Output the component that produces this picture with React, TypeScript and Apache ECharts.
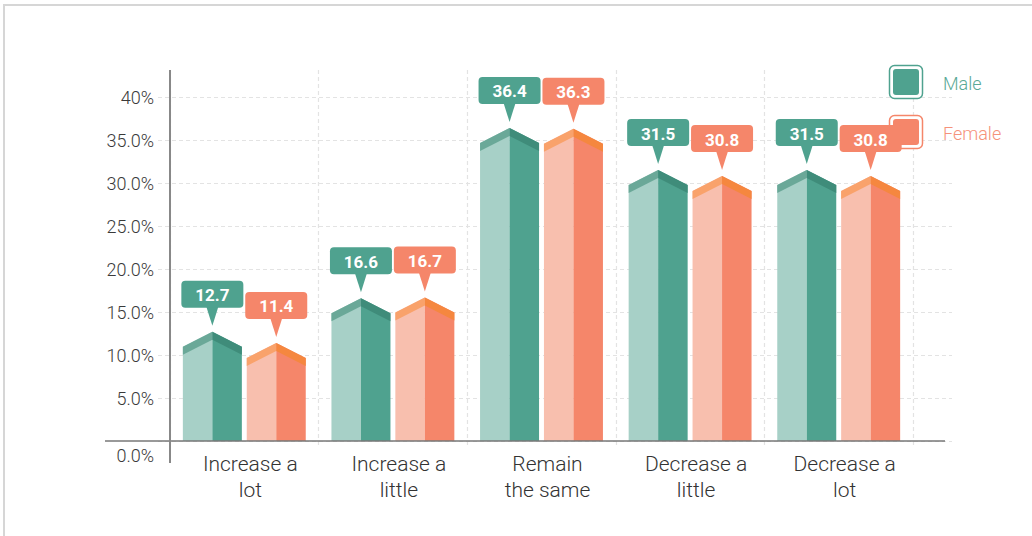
import React, { useEffect, useRef } from "react";
import * as echarts from "echarts";

const categories = [
  "Increase a\nlot",
  "Increase a\nlittle",
  "Remain\nthe same",
  "Decrease a\nlittle",
  "Decrease a\nlot",
];
const maleValues = [12.7, 16.6, 36.4, 31.5, 31.5];
const femaleValues = [11.4, 16.7, 36.3, 30.8, 30.8];
const yTicks = { min: 0, max: 40, interval: 5 };

const MALE = { light: "#a7d0c7", dark: "#4fa28f", capL: "#6aa898", capR: "#3f8c7a", label: "#4fa28f", text: "#5aa996" };
const FEMALE = { light: "#f8bfae", dark: "#f5866a", capL: "#f9a26b", capR: "#f5873f", label: "#f5866a", text: "#f5927a" };

const FONT = "Roboto, 'Liberation Sans', Arial, sans-serif";

// Pentagon ("house") bar split into a light left half and a dark right half,
// with a darker roof band and a callout bubble holding the value.
function houseBar(palette: typeof MALE, offset: number) {
  return (params: any, api: any) => {
    const cat = api.value(0);
    const v = api.value(1);
    const base = api.coord([cat, 0]);
    const top = api.coord([cat, v]);
    const band = api.size([1, 0])[0];
    const w = band * 0.397;
    const cx = base[0] + offset * band;
    const x0 = cx - w / 2;
    const x1 = cx + w / 2;
    const y0 = base[1];
    const peak = top[1];
    const shoulder = Math.min(peak + 15, y0);
    const cap = 8;
    const capS = Math.min(shoulder + cap, y0);
    const capP = Math.min(peak + cap, y0);
    const tip = peak - 6;
    const ptr = 18;
    const boxH = 27;
    const boxW = 62;
    return {
      type: "group",
      children: [
        { type: "polygon", shape: { points: [[x0, y0], [x0, shoulder], [cx, peak], [cx, y0]] }, style: { fill: palette.light } },
        { type: "polygon", shape: { points: [[cx, y0], [cx, peak], [x1, shoulder], [x1, y0]] }, style: { fill: palette.dark } },
        { type: "polygon", shape: { points: [[x0, shoulder], [cx, peak], [cx, capP], [x0, capS]] }, style: { fill: palette.capL } },
        { type: "polygon", shape: { points: [[cx, peak], [x1, shoulder], [x1, capS], [cx, capP]] }, style: { fill: palette.capR } },
        { type: "polygon", shape: { points: [[cx - 6, tip - ptr - 1], [cx + 6, tip - ptr - 1], [cx, tip]] }, style: { fill: palette.label } },
        { type: "rect", shape: { x: cx - boxW / 2, y: tip - ptr - boxH, width: boxW, height: boxH, r: 4 }, style: { fill: palette.label } },
        {
          type: "text",
          x: cx,
          y: tip - ptr - boxH / 2 + 1,
          style: { text: String(v), fill: "#ffffff", font: `bold 17px ${FONT}`, align: "center", verticalAlign: "middle" },
        },
      ],
    };
  };
}

export default function App() {
  const ref = useRef<HTMLDivElement>(null);
  useEffect(() => {
    if (!ref.current) return;
    const chart = echarts.init(ref.current, null, { renderer: "svg" });
    const dash = { color: "#e3e3e3", type: [4, 3] as any, width: 1.2 };
    chart.setOption({
      animation: false,
      grid: [
        { left: 170, width: 743, top: 97, height: 344 },
        { left: 158, width: 794, top: 97, height: 344 },
        { left: 170, width: 743, top: 70, height: 375 },
      ],
      xAxis: [
        {
          type: "category",
          gridIndex: 0,
          data: categories,
          axisLine: { show: false },
          axisTick: { show: false },
          splitLine: { show: false },
          axisLabel: {
            fontSize: 21,
            fontWeight: 300,
            lineHeight: 26,
            margin: 10,
            color: "#333",
            fontFamily: FONT,
            padding: [0, 0, 0, 12],
          },
        },
        { type: "value", gridIndex: 1, show: false },
        {
          type: "category",
          gridIndex: 2,
          data: categories,
          axisLine: { show: false },
          axisTick: { show: false },
          axisLabel: { show: false },
          splitLine: { show: true, lineStyle: dash },
        },
      ],
      yAxis: [
        {
          type: "value",
          gridIndex: 0,
          min: yTicks.min,
          max: yTicks.max,
          interval: yTicks.interval,
          axisLine: { show: false },
          axisTick: { show: false },
          splitLine: { show: false },
          axisLabel: {
            margin: 16,
            fontSize: 18,
            fontWeight: 300,
            color: "#3a3a3a",
            fontFamily: FONT,
            formatter: (val: number) => (val === 0 ? "{z|0.0%}" : val === 40 ? "40%" : val.toFixed(1) + "%"),
            rich: { z: { fontSize: 18, fontWeight: 300, color: "#3a3a3a", fontFamily: FONT, padding: [28, 0, 0, 0] } },
          },
        },
        {
          type: "value",
          gridIndex: 1,
          min: yTicks.min,
          max: yTicks.max,
          interval: yTicks.interval,
          axisLine: { show: false },
          axisTick: { show: false },
          axisLabel: { show: false },
          splitLine: { show: true, lineStyle: dash },
        },
        { type: "value", gridIndex: 2, show: false },
      ],
      series: [
        {
          name: "Male",
          type: "custom",
          xAxisIndex: 0,
          yAxisIndex: 0,
          renderItem: houseBar(MALE, -0.215),
          data: maleValues.map((v, i) => [i, v]),
          z: 30,
        },
        {
          name: "Female",
          type: "custom",
          xAxisIndex: 0,
          yAxisIndex: 0,
          renderItem: houseBar(FEMALE, 0.215),
          data: femaleValues.map((v, i) => [i, v]),
          z: 30,
        },
      ],
      graphic: [
        // frame
        { type: "line", shape: { x1: 3, y1: 5, x2: 1032, y2: 5 }, style: { stroke: "#d6d6d6", lineWidth: 2 } },
        { type: "line", shape: { x1: 4, y1: 5, x2: 4, y2: 536 }, style: { stroke: "#d6d6d6", lineWidth: 2 } },
        // axes
        { type: "line", z: 40, shape: { x1: 105, y1: 441, x2: 945, y2: 441 }, style: { stroke: "#777", lineWidth: 1.5 } },
        { type: "line", z: 40, shape: { x1: 170, y1: 70, x2: 170, y2: 463 }, style: { stroke: "#888", lineWidth: 2 } },
        // legend
        { type: "rect", z: 20, shape: { x: 889.5, y: 65.5, width: 33, height: 33, r: 5 }, style: { fill: "#fff", stroke: MALE.dark, lineWidth: 1.5 } },
        { type: "rect", z: 21, shape: { x: 893, y: 69, width: 26, height: 26, r: 3 }, style: { fill: MALE.dark } },
        { type: "text", z: 21, x: 943, y: 83, style: { text: "Male", fill: MALE.text, font: `300 18px ${FONT}`, verticalAlign: "middle" } },
        { type: "rect", z: 20, shape: { x: 889.5, y: 115.5, width: 33, height: 33, r: 5 }, style: { fill: "#fff", stroke: FEMALE.dark, lineWidth: 1.5 } },
        { type: "rect", z: 21, shape: { x: 893, y: 119, width: 26, height: 26, r: 3 }, style: { fill: FEMALE.dark } },
        { type: "text", z: 21, x: 943, y: 133, style: { text: "Female", fill: FEMALE.text, font: `300 18px ${FONT}`, verticalAlign: "middle" } },
      ],
    });
    return () => chart.dispose();
  }, []);
  return <div ref={ref} style={{ position: "fixed", left: 0, top: 0, width: 1032, height: 536, background: "#fff" }} />;
}
